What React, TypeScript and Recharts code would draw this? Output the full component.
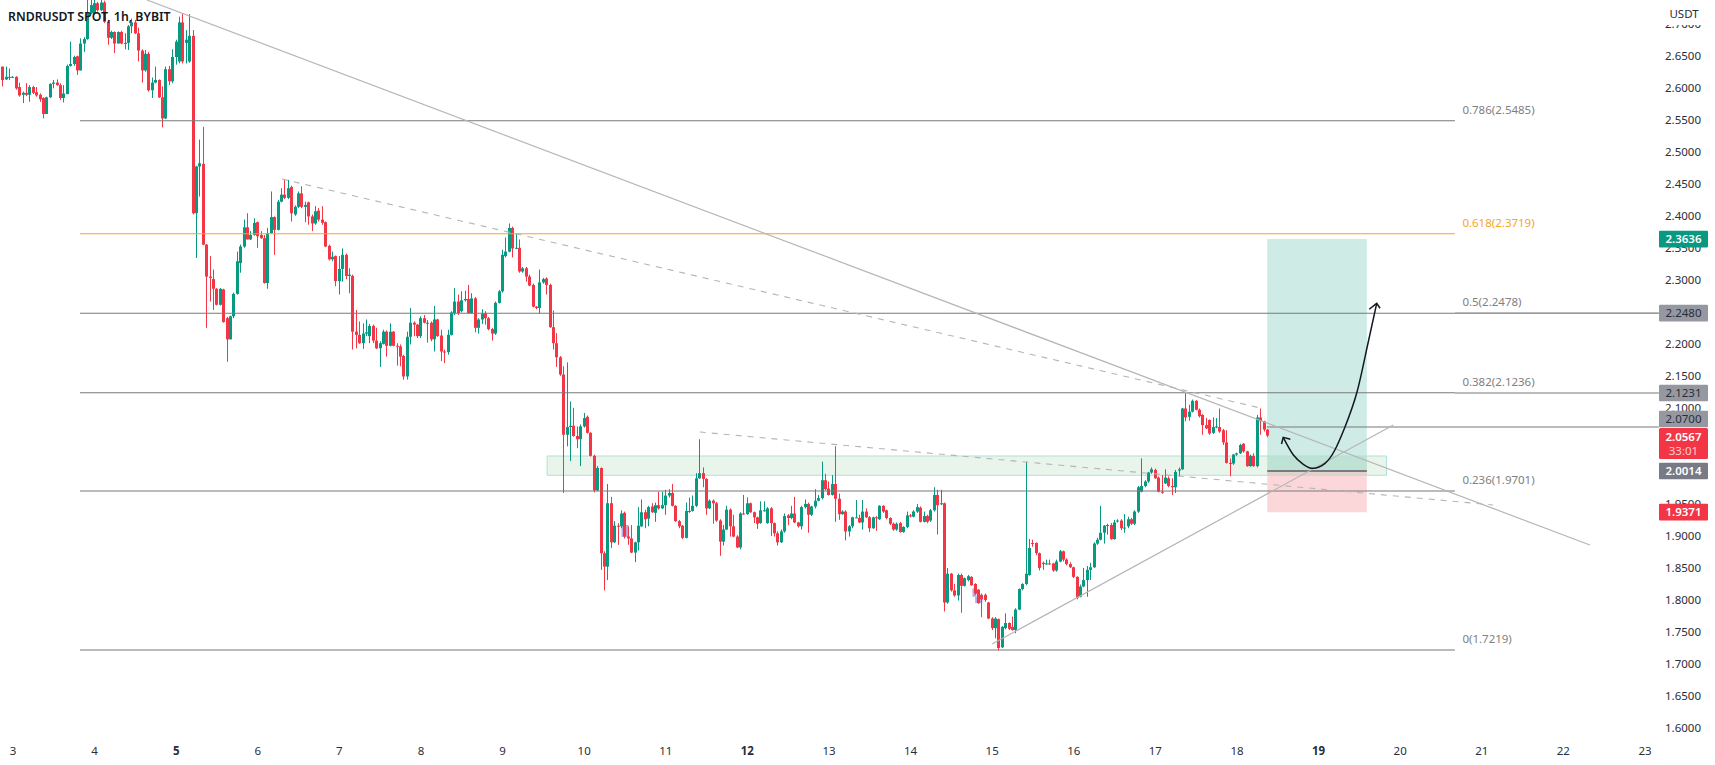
import { Bar, ComposedChart, Line, ReferenceArea, ReferenceDot, ReferenceLine, XAxis, YAxis } from 'recharts';

const opens = [
  2.633,2.613,2.616,2.616,2.617,2.601,2.589,2.592,2.589,2.601,2.593,2.589,2.584,2.559,2.585,2.606,2.608,2.604,2.584,2.590,
  2.634,2.637,2.649,2.627,2.669,2.676,2.716,2.716,2.732,2.721,2.733,2.703,2.678,2.687,2.669,2.687,2.670,2.670,2.696,2.702,
  2.685,2.658,2.627,2.653,2.596,2.608,2.612,2.585,2.552,2.629,2.610,2.648,2.641,2.702,2.670,2.641,2.681,2.404,2.477,2.481,
  2.355,2.305,2.301,2.286,2.261,2.285,2.240,2.207,2.243,2.278,2.326,2.352,2.382,2.363,2.370,2.390,2.370,2.365,2.295,2.373,
  2.398,2.378,2.422,2.433,2.428,2.445,2.402,2.414,2.435,2.414,2.421,2.399,2.388,2.408,2.394,2.390,2.353,2.332,2.337,2.298,
  2.317,2.339,2.306,2.306,2.219,2.214,2.201,2.216,2.212,2.228,2.205,2.193,2.200,2.219,2.197,2.219,2.197,2.196,2.181,2.149,
  2.211,2.233,2.230,2.212,2.240,2.233,2.233,2.207,2.238,2.213,2.188,2.187,2.214,2.248,2.266,2.251,2.268,2.270,2.248,2.271,
  2.225,2.238,2.248,2.240,2.223,2.216,2.264,2.282,2.337,2.344,2.381,2.349,2.350,2.313,2.318,2.305,2.292,2.258,2.256,2.296,
  2.302,2.292,2.226,2.201,2.179,2.152,2.058,2.070,2.072,2.056,2.051,2.071,2.086,2.061,2.025,1.971,2.006,1.873,1.852,1.951,
  1.890,1.916,1.915,1.936,1.899,1.896,1.874,1.890,1.915,1.937,1.927,1.946,1.936,1.948,1.943,1.948,1.963,1.967,1.947,1.923,
  1.916,1.897,1.939,1.939,1.947,1.990,1.998,1.989,1.943,1.955,1.951,1.924,1.891,1.910,1.941,1.915,1.899,1.882,1.935,1.934,
  1.951,1.937,1.929,1.920,1.940,1.920,1.943,1.920,1.904,1.890,1.907,1.932,1.928,1.935,1.921,1.915,1.945,1.950,1.933,1.946,
  1.955,1.959,1.987,1.974,1.964,1.981,1.958,1.934,1.938,1.907,1.915,1.929,1.928,1.921,1.938,1.929,1.912,1.929,1.926,1.947,
  1.940,1.928,1.919,1.910,1.920,1.906,1.914,1.932,1.930,1.938,1.944,1.922,1.931,1.924,1.940,1.964,1.951,1.951,1.796,1.841,
  1.815,1.807,1.839,1.822,1.831,1.836,1.825,1.816,1.808,1.808,1.796,1.771,1.756,1.770,1.726,1.756,1.764,1.758,1.753,1.785,
  1.817,1.825,1.839,1.889,1.889,1.873,1.858,1.856,1.857,1.857,1.846,1.860,1.876,1.863,1.856,1.851,1.836,1.805,1.821,1.831,
  1.847,1.851,1.888,1.894,1.905,1.917,1.917,1.895,1.924,1.924,1.912,1.915,1.926,1.919,1.938,1.969,1.978,1.985,1.999,2.003,
  1.991,1.969,1.982,1.990,1.978,1.976,2.002,2.004,2.099,2.086,2.094,2.111,2.097,2.089,2.073,2.081,2.061,2.070,2.070,2.065,
  2.046,2.014,2.013,2.027,2.029,2.044,2.032,2.009,2.025,2.009,2.085,2.079,2.066,
];
const closes = [
  2.612,2.617,2.617,2.617,2.599,2.588,2.592,2.589,2.601,2.592,2.588,2.582,2.559,2.585,2.606,2.608,2.604,2.584,2.591,2.634,
  2.637,2.648,2.627,2.669,2.676,2.716,2.729,2.732,2.721,2.733,2.703,2.678,2.687,2.669,2.687,2.669,2.670,2.696,2.702,2.685,
  2.658,2.627,2.653,2.596,2.608,2.612,2.585,2.552,2.629,2.610,2.648,2.672,2.702,2.641,2.675,2.681,2.404,2.477,2.482,2.355,
  2.305,2.303,2.286,2.261,2.286,2.234,2.207,2.243,2.278,2.329,2.352,2.382,2.363,2.370,2.389,2.368,2.365,2.295,2.373,2.398,
  2.378,2.422,2.433,2.428,2.443,2.404,2.414,2.435,2.414,2.417,2.399,2.388,2.407,2.394,2.389,2.352,2.332,2.336,2.298,2.317,
  2.339,2.306,2.308,2.219,2.214,2.201,2.216,2.218,2.228,2.205,2.193,2.201,2.219,2.197,2.219,2.197,2.196,2.180,2.149,2.211,
  2.233,2.230,2.212,2.240,2.233,2.233,2.207,2.238,2.212,2.188,2.187,2.214,2.249,2.266,2.248,2.268,2.270,2.248,2.271,2.225,
  2.238,2.247,2.240,2.223,2.216,2.264,2.282,2.339,2.344,2.381,2.349,2.350,2.313,2.318,2.305,2.291,2.258,2.256,2.296,2.301,
  2.292,2.226,2.201,2.179,2.152,2.058,2.070,2.072,2.056,2.051,2.071,2.084,2.061,2.025,1.971,2.006,1.873,1.852,1.951,1.890,
  1.916,1.915,1.935,1.899,1.896,1.874,1.890,1.916,1.937,1.926,1.945,1.937,1.948,1.943,1.948,1.963,1.967,1.947,1.923,1.915,
  1.897,1.939,1.939,1.947,1.990,1.998,1.989,1.943,1.955,1.951,1.924,1.891,1.910,1.941,1.915,1.899,1.882,1.935,1.934,1.951,
  1.937,1.929,1.919,1.940,1.940,1.943,1.920,1.904,1.890,1.907,1.931,1.928,1.935,1.921,1.915,1.945,1.950,1.933,1.946,1.955,
  1.959,1.987,1.973,1.964,1.981,1.958,1.934,1.938,1.907,1.915,1.929,1.929,1.921,1.938,1.929,1.912,1.929,1.928,1.947,1.938,
  1.928,1.919,1.910,1.919,1.906,1.914,1.932,1.931,1.938,1.945,1.922,1.931,1.922,1.940,1.964,1.948,1.951,1.796,1.841,1.815,
  1.807,1.839,1.822,1.834,1.837,1.823,1.810,1.795,1.801,1.800,1.771,1.756,1.771,1.725,1.758,1.764,1.755,1.753,1.785,1.817,
  1.825,1.841,1.881,1.888,1.873,1.850,1.856,1.857,1.856,1.846,1.860,1.876,1.863,1.856,1.851,1.836,1.803,1.821,1.831,1.847,
  1.851,1.888,1.894,1.905,1.916,1.917,1.895,1.921,1.924,1.912,1.913,1.926,1.919,1.938,1.976,1.978,1.985,1.999,2.004,1.990,
  1.969,1.968,1.991,1.978,1.976,2.000,2.004,2.099,2.085,2.094,2.111,2.097,2.087,2.073,2.068,2.060,2.070,2.071,2.063,2.046,
  2.014,2.013,2.027,2.029,2.042,2.032,2.009,2.025,2.009,2.085,2.079,2.066,2.0567,
];
const highs = [
  2.633,2.633,2.630,2.618,2.618,2.608,2.594,2.607,2.604,2.603,2.601,2.591,2.585,2.586,2.607,2.612,2.613,2.607,2.604,2.636,
  2.672,2.650,2.650,2.677,2.679,2.737,2.737,2.737,2.734,2.737,2.736,2.706,2.689,2.688,2.688,2.689,2.685,2.698,2.708,2.706,
  2.694,2.660,2.659,2.656,2.616,2.633,2.613,2.602,2.633,2.634,2.660,2.675,2.711,2.716,2.690,2.715,2.690,2.478,2.519,2.539,
  2.356,2.337,2.316,2.287,2.287,2.286,2.242,2.244,2.280,2.344,2.355,2.394,2.404,2.376,2.396,2.391,2.376,2.370,2.381,2.438,
  2.399,2.425,2.443,2.456,2.456,2.447,2.416,2.438,2.446,2.422,2.422,2.402,2.415,2.412,2.415,2.391,2.355,2.344,2.338,2.337,
  2.349,2.341,2.318,2.308,2.253,2.235,2.232,2.238,2.231,2.230,2.225,2.204,2.222,2.221,2.232,2.220,2.201,2.199,2.183,2.219,
  2.256,2.235,2.231,2.243,2.245,2.237,2.235,2.259,2.239,2.222,2.191,2.222,2.251,2.287,2.277,2.282,2.283,2.292,2.279,2.273,
  2.240,2.254,2.251,2.242,2.225,2.266,2.284,2.347,2.366,2.388,2.383,2.373,2.363,2.320,2.320,2.308,2.294,2.259,2.316,2.303,
  2.304,2.294,2.252,2.217,2.181,2.165,2.171,2.110,2.100,2.071,2.074,2.092,2.088,2.062,2.027,2.009,2.007,1.876,1.981,1.961,
  1.923,1.920,1.940,1.938,1.915,1.917,1.891,1.945,1.957,1.941,1.947,1.951,1.952,1.969,1.969,1.972,1.973,1.981,1.948,1.925,
  1.917,1.952,1.960,1.963,1.998,2.051,2.007,1.990,1.957,1.957,1.953,1.926,1.917,1.947,1.943,1.933,1.901,1.937,1.964,1.960,
  1.952,1.938,1.930,1.954,1.954,1.945,1.945,1.921,1.907,1.910,1.935,1.934,1.947,1.961,1.922,1.947,1.957,1.952,1.947,1.973,
  1.964,2.016,1.997,1.985,1.995,2.040,1.966,1.940,1.940,1.917,1.930,1.956,1.933,1.956,1.943,1.931,1.930,1.931,1.948,1.948,
  1.941,1.929,1.921,1.921,1.922,1.915,1.938,1.934,1.940,1.950,1.946,1.938,1.933,1.942,1.976,1.972,1.972,1.952,1.850,1.842,
  1.825,1.841,1.841,1.835,1.839,1.837,1.826,1.817,1.810,1.810,1.797,1.773,1.773,1.771,1.759,1.779,1.765,1.774,1.787,1.818,
  1.826,2.016,1.895,1.894,1.890,1.874,1.860,1.863,1.863,1.858,1.863,1.878,1.877,1.865,1.859,1.852,1.837,1.824,1.850,1.853,
  1.858,1.890,1.897,1.947,1.917,1.919,1.920,1.925,1.926,1.926,1.934,1.930,1.928,1.940,1.978,2.021,1.987,2.000,2.007,2.005,
  1.993,1.995,2.004,1.993,1.990,2.003,2.007,2.100,2.123,2.105,2.113,2.112,2.099,2.090,2.084,2.082,2.085,2.084,2.099,2.067,
  2.065,2.021,2.028,2.030,2.044,2.045,2.033,2.027,2.029,2.089,2.099,2.080,2.067,
];
const lows = [
  2.602,2.612,2.612,2.615,2.597,2.586,2.576,2.587,2.578,2.590,2.586,2.578,2.552,2.559,2.584,2.599,2.603,2.581,2.577,2.590,
  2.633,2.634,2.620,2.627,2.656,2.675,2.715,2.714,2.719,2.720,2.701,2.667,2.676,2.654,2.669,2.668,2.660,2.659,2.685,2.684,
  2.641,2.608,2.625,2.594,2.584,2.607,2.584,2.538,2.551,2.604,2.607,2.636,2.638,2.638,2.638,2.639,2.402,2.334,2.430,2.354,
  2.225,2.266,2.253,2.260,2.260,2.233,2.172,2.207,2.240,2.277,2.311,2.350,2.363,2.362,2.369,2.350,2.364,2.294,2.286,2.372,
  2.339,2.377,2.421,2.426,2.426,2.391,2.400,2.412,2.412,2.390,2.386,2.376,2.386,2.391,2.386,2.351,2.330,2.329,2.290,2.277,
  2.297,2.301,2.279,2.191,2.193,2.200,2.192,2.212,2.201,2.201,2.192,2.164,2.199,2.180,2.196,2.196,2.166,2.165,2.144,2.144,
  2.199,2.212,2.209,2.209,2.232,2.202,2.204,2.188,2.211,2.173,2.170,2.183,2.213,2.245,2.245,2.249,2.266,2.247,2.247,2.218,
  2.216,2.231,2.230,2.221,2.205,2.214,2.263,2.280,2.335,2.343,2.335,2.348,2.311,2.311,2.297,2.290,2.257,2.254,2.247,2.294,
  2.277,2.225,2.191,2.164,2.150,1.967,2.040,2.017,2.055,2.037,2.009,2.069,2.060,2.024,1.968,1.970,1.847,1.815,1.831,1.881,
  1.889,1.886,1.912,1.896,1.886,1.873,1.859,1.877,1.914,1.912,1.915,1.936,1.922,1.941,1.942,1.933,1.960,1.946,1.922,1.912,
  1.895,1.896,1.936,1.938,1.945,1.989,1.976,1.933,1.942,1.919,1.922,1.869,1.885,1.909,1.899,1.898,1.881,1.879,1.933,1.933,
  1.936,1.920,1.911,1.919,1.938,1.919,1.900,1.899,1.885,1.889,1.905,1.917,1.926,1.920,1.913,1.910,1.943,1.905,1.931,1.943,
  1.954,1.957,1.971,1.963,1.963,1.922,1.925,1.933,1.893,1.899,1.912,1.928,1.920,1.910,1.928,1.906,1.911,1.908,1.925,1.936,
  1.926,1.917,1.908,1.908,1.905,1.905,1.912,1.929,1.929,1.936,1.921,1.921,1.920,1.922,1.938,1.902,1.948,1.782,1.794,1.813,
  1.805,1.799,1.780,1.821,1.829,1.822,1.808,1.794,1.773,1.797,1.770,1.753,1.740,1.721,1.725,1.754,1.753,1.752,1.748,1.784,
  1.815,1.823,1.838,1.883,1.870,1.846,1.847,1.855,1.855,1.844,1.844,1.859,1.860,1.854,1.850,1.834,1.801,1.804,1.820,1.805,
  1.831,1.850,1.886,1.893,1.888,1.902,1.894,1.894,1.921,1.909,1.905,1.912,1.917,1.917,1.936,1.968,1.976,1.983,1.997,1.989,
  1.968,1.966,1.981,1.976,1.964,1.967,1.993,2.003,2.079,2.080,2.093,2.096,2.085,2.058,2.067,2.058,2.059,2.068,2.061,2.042,
  2.013,1.993,2.011,2.025,2.028,2.030,2.008,2.008,2.008,2.007,2.058,2.063,2.054,
];

const yTicks = [1.6,1.65,1.7,1.75,1.8,1.85,1.9,1.95,2,2.05,2.1,2.15,2.2,2.25,2.3,2.35,2.4,2.45,2.5,2.55,2.6,2.65,2.7];
const dayTicks = [0,24,48,72,96,120,144,168,192,216,240,264,288,312,336,360,384,408,432,456,480];
const dayLabels = ['3','4','5','6','7','8','9','10','11','12','13','14','15','16','17','18','19','20','21','22','23'];
const boldDays = ['5','12','19'];

const fibLevels = [2.5485, 2.3719, 2.2478, 2.1236, 1.9701, 1.7219];
const fibNames = ['0.786(2.5485)', '0.618(2.3719)', '0.5(2.2478)', '0.382(2.1236)', '0.236(1.9701)', '0(1.7219)'];

const tagPrices = [2.3636, 2.248, 2.1231, 2.07, 2.0014, 1.9371, 2.0567];
const tagKinds = ['up', 'line', 'line', 'line', 'entry', 'down', 'live'];

const curve = [
  { t: 373.6, p: 2.054 }, { t: 376.6, p: 2.0264 }, { t: 379.5, p: 2.0119 }, { t: 382.4, p: 2.0056 },
  { t: 385.9, p: 2.0134 }, { t: 388.8, p: 2.0342 }, { t: 391.8, p: 2.0706 }, { t: 395.2, p: 2.1227 },
  { t: 398.1, p: 2.1904 }, { t: 401.1, p: 2.2633 },
];
const headStart = [{ t: 373.1, p: 2.0436 }, { t: 373.6, p: 2.054 }, { t: 375.7, p: 2.0509 }];
const headEnd = [{ t: 398.9, p: 2.254 }, { t: 401.1, p: 2.2633 }, { t: 402.1, p: 2.2555 }];

const candles = closes.map((c, i) => ({ t: i - 3, o: opens[i], c, h: highs[i], l: lows[i] }));

const GREEN = '#089981';
const RED = '#f23645';
const FONT = '"Noto Sans", sans-serif';
const Y_DOMAIN = [1.5422, 2.737];
const BODY_W = 3;

function Candle(props: any) {
  const { x, y, width, height, payload } = props;
  const { o, c, h, l } = payload;
  const k = height / (h - l);
  const top = y + (h - Math.max(o, c)) * k;
  const bodyH = Math.max(Math.abs(o - c) * k, 1);
  const color = c >= o ? GREEN : RED;
  // snap to whole pixels so the thin bodies stay solid
  const mid = Math.floor(x + width / 2) + 0.5;
  return (
    <g>
      <line x1={mid} x2={mid} y1={y} y2={y + height} stroke={color} strokeWidth={1} />
      <rect x={mid - BODY_W / 2} y={top} width={BODY_W} height={bodyH} fill={color} />
    </g>
  );
}

function PriceTick(props: any) {
  const { y, payload } = props;
  return (
    <text x={1683} y={y} dy={4} textAnchor="middle" fontSize={11.5} fontFamily={FONT} fill="#2a2e39">
      {payload.value.toFixed(4)}
    </text>
  );
}

function DayTick(props: any) {
  const { x, payload } = props;
  const label = dayLabels[dayTicks.indexOf(payload.value)];
  return (
    <text x={x} y={755} textAnchor="middle" fontSize={11.5} fontFamily={FONT} fill="#2a2e39"
      fontWeight={boldDays.includes(label) ? 700 : 400}>
      {label}
    </text>
  );
}

function TagTick(props: any) {
  const { y, payload } = props;
  const price: number = payload.value;
  const kind = tagKinds[tagPrices.indexOf(price)];
  const cx = 1683.5;
  if (kind === 'live') {
    return (
      <g>
        <rect x={cx - 24.5} y={y - 7.5} width={49} height={31} rx={1.5} fill={RED} />
        <text x={cx} y={y + 5} textAnchor="middle" fontSize={11.5} fontWeight={600} fontFamily={FONT} fill="#fff">{price.toFixed(4)}</text>
        <text x={cx} y={y + 19.5} textAnchor="middle" fontSize={11.5} fontFamily={FONT} fill="#fcc">33:01</text>
      </g>
    );
  }
  const bg = kind === 'up' ? GREEN : kind === 'down' ? RED : kind === 'entry' ? '#787b86' : '#9598a1';
  const fg = kind === 'line' ? '#2a2e39' : '#ffffff';
  // the 2.0700 tag is pushed up out of the way of the live price
  const cy = price === 2.07 ? y - 8 : y;
  return (
    <g>
      <rect x={cx - 24.5} y={cy - 8.3} width={49} height={16.6} rx={1} fill={bg} />
      <text x={cx} y={cy + 4} textAnchor="middle" fontSize={11.5} fontFamily={FONT} fill={fg}
        fontWeight={kind === 'line' ? 400 : 600}>
        {price.toFixed(4)}
      </text>
    </g>
  );
}

function fibLabel(name: string, color: string) {
  return (p: any) => (
    <text x={p.cx} y={p.cy - 7} fontSize={11.5} fontFamily={FONT} fill={color}>
      {name}
    </text>
  );
}

export default function App() {
  return (
    <div style={{ position: 'absolute', left: 0, top: 0, width: 1715, height: 765, background: '#fff' }}>
      <ComposedChart width={1715} height={765} data={candles} margin={{ top: 0, right: 0, bottom: 0, left: 0 }} barGap={0}>
        <XAxis type="number" dataKey="t" domain={[-3.82, 500.6]} ticks={dayTicks} mirror axisLine={false}
          tickLine={false} tick={DayTick} interval={0} allowDataOverflow />
        <YAxis type="number" orientation="right" domain={Y_DOMAIN} ticks={yTicks} mirror axisLine={false}
          tickLine={false} tick={PriceTick} interval={0} allowDataOverflow />
        <YAxis yAxisId="tags" type="number" orientation="right" domain={Y_DOMAIN} ticks={tagPrices} mirror axisLine={false}
          tickLine={false} tick={TagTick} interval={0} allowDataOverflow />

        <ReferenceArea x1={368.9} x2={398.2} y1={2.0014} y2={2.3636} fill="#089981" fillOpacity={0.2} stroke="none" />
        <ReferenceArea x1={368.9} x2={398.2} y1={1.9371} y2={2.0014} fill="#f23645" fillOpacity={0.2} stroke="none" />
        <ReferenceArea x1={157.1} x2={404} y1={1.9947} y2={2.0248} fill="#4caf50" fillOpacity={0.12} stroke="#b2dfdb" />
        <ReferenceArea x1={179} x2={181} y1={1.8983} y2={1.917} fill="#7e6fd6" fillOpacity={0.6} stroke="none" />
        <ReferenceArea x1={282.2} x2={283.4} y1={1.805} y2={1.8182} fill="#7e6fd6" fillOpacity={0.6} stroke="none" />
        <ReferenceArea x1={283} x2={285.1} y1={1.795} y2={1.805} fill="#7e6fd6" fillOpacity={0.6} stroke="none" />

        {fibLevels.map((lv) => (
          <ReferenceLine key={lv} segment={[{ x: 19.7, y: lv }, { x: 424.1, y: lv }]}
            stroke={lv === 2.3719 ? '#f5a623' : '#787878'} strokeWidth={1.1} />
        ))}
        <ReferenceLine segment={[{ x: 424.1, y: 2.248 }, { x: 484.1, y: 2.248 }]} stroke="#787878" strokeWidth={1.1} />
        <ReferenceLine segment={[{ x: 424.1, y: 2.1231 }, { x: 484.1, y: 2.1231 }]} stroke="#787878" strokeWidth={1.1} />
        <ReferenceLine segment={[{ x: 368.7, y: 2.07 }, { x: 484.1, y: 2.07 }]} stroke="#787878" strokeWidth={1.1} />
        <ReferenceLine segment={[{ x: 368.9, y: 2.0014 }, { x: 398.2, y: 2.0014 }]} stroke="#787b86" strokeWidth={2} />

        <ReferenceLine segment={[{ x: 39.4, y: 2.737 }, { x: 463.8, y: 1.8858 }]} stroke="#b5b5b5" strokeWidth={1.2} />
        <ReferenceLine segment={[{ x: 288, y: 1.7312 }, { x: 406, y: 2.0732 }]} stroke="#b5b5b5" strokeWidth={1.2} />
        <ReferenceLine segment={[{ x: 79.1, y: 2.4574 }, { x: 366.8, y: 2.0998 }]} stroke="#b5b5b5" strokeWidth={1.1} strokeDasharray="6 6" />
        <ReferenceLine segment={[{ x: 202, y: 2.0623 }, { x: 435.3, y: 1.9483 }]} stroke="#b5b5b5" strokeWidth={1.1} strokeDasharray="6 6" />

        <Bar dataKey={(d: any) => [d.l, d.h]} barSize={3} shape={Candle} isAnimationActive={false} />

        <Line data={curve} dataKey="p" type="natural" stroke="#131722" strokeWidth={1.5} dot={false} activeDot={false} isAnimationActive={false} />
        <Line data={headStart} dataKey="p" stroke="#131722" strokeWidth={1.5} dot={false} activeDot={false} isAnimationActive={false} />
        <Line data={headEnd} dataKey="p" stroke="#131722" strokeWidth={1.5} dot={false} activeDot={false} isAnimationActive={false} />

        {fibLevels.map((lv, i) => (
          <ReferenceDot key={fibNames[i]} x={426.3} y={lv} r={0} ifOverflow="visible"
            shape={fibLabel(fibNames[i], lv === 2.3719 ? '#f5a623' : '#808080')} />
        ))}
      </ComposedChart>
      <div style={{ position: 'absolute', left: 8, top: 8, fontFamily: FONT, fontSize: 12.3, fontWeight: 600, color: '#131722', lineHeight: '17px' }}>
        RNDRUSDT SPOT, 1h, BYBIT
      </div>
      <div style={{ position: 'absolute', left: 1659, top: 0, width: 50, height: 25, paddingTop: 6, boxSizing: 'border-box', background: '#fff', textAlign: 'center', fontFamily: FONT, fontSize: 11.5, color: '#2a2e39', lineHeight: '16px' }}>
        USDT
      </div>
    </div>
  );
}
